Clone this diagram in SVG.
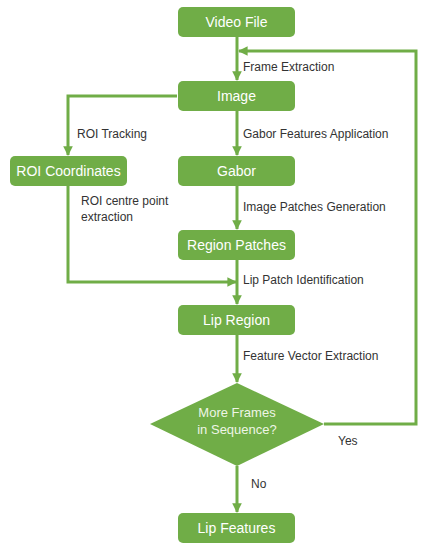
<svg xmlns="http://www.w3.org/2000/svg" width="426" height="550" viewBox="0 0 426 550">
<style>
.box{fill:#70ad47;}
.bt{fill:#ffffff;font-family:"Liberation Sans",Arial,sans-serif;font-size:14px;text-anchor:middle;}
.dt{fill:#eef5e6;font-family:"Liberation Sans",Arial,sans-serif;font-size:13px;text-anchor:middle;}
.lb{fill:#333333;font-family:"Liberation Sans",Arial,sans-serif;font-size:12px;}
.ln{fill:none;stroke:#70ad47;stroke-width:3;}
</style>
<defs>
<marker id="ah" viewBox="0 0 10 10" refX="9" refY="5" markerWidth="3.2" markerHeight="3.2" orient="auto" markerUnits="strokeWidth">
<path d="M0,0 L10,5 L0,10 z" fill="#70ad47"/>
</marker>
</defs>
<rect width="426" height="550" fill="#ffffff"/>
<g id="connectors">
<path class="ln" d="M237,37 V80" marker-end="url(#ah)"/>
<path class="ln" d="M324,424 H416 V51 H239" marker-end="url(#ah)"/>
<path class="ln" d="M177,96 H68 V155" marker-end="url(#ah)"/>
<path class="ln" d="M237,111 V155" marker-end="url(#ah)"/>
<path class="ln" d="M237,186 V229" marker-end="url(#ah)"/>
<path class="ln" d="M68,186 V282 H236" marker-end="url(#ah)"/>
<path class="ln" d="M237,260 V304" marker-end="url(#ah)"/>
<path class="ln" d="M237,334 V382" marker-end="url(#ah)"/>
<path class="ln" d="M237,466 V512" marker-end="url(#ah)"/>
</g>
<g id="labels">
<text class="lb" x="243" y="71">Frame Extraction</text>
<text class="lb" x="77" y="138">ROI Tracking</text>
<text class="lb" x="243" y="138">Gabor Features Application</text>
<text class="lb" x="81" y="205">ROI centre point</text>
<text class="lb" x="81" y="221">extraction</text>
<text class="lb" x="243" y="211">Image Patches Generation</text>
<text class="lb" x="243" y="284">Lip Patch Identification</text>
<text class="lb" x="243" y="360">Feature Vector Extraction</text>
<text class="lb" x="338" y="445">Yes</text>
<text class="lb" x="251" y="488">No</text>
</g>
<g id="video-file"><rect class="box" x="178" y="7" width="117" height="30" rx="5"/><text class="bt" x="236.5" y="27">Video File</text></g>
<g id="image"><rect class="box" x="178" y="81" width="117" height="30" rx="5"/><text class="bt" x="236.5" y="101">Image</text></g>
<g id="roi-coordinates"><rect class="box" x="10" y="156" width="117" height="30" rx="5"/><text class="bt" x="68.5" y="176">ROI Coordinates</text></g>
<g id="gabor"><rect class="box" x="178" y="156" width="117" height="30" rx="5"/><text class="bt" x="236.5" y="176">Gabor</text></g>
<g id="region-patches"><rect class="box" x="178" y="230" width="117" height="30" rx="5"/><text class="bt" x="236.5" y="250">Region Patches</text></g>
<g id="lip-region"><rect class="box" x="178" y="305" width="117" height="30" rx="5"/><text class="bt" x="236.5" y="325">Lip Region</text></g>
<g id="decision"><path class="box" d="M237,383 L324,424 L237,466 L150,424 z"/><text class="dt" x="237" y="417">More Frames</text><text class="dt" x="237" y="434">in Sequence?</text></g>
<g id="lip-features"><rect class="box" x="178" y="513" width="117" height="30" rx="5"/><text class="bt" x="236.5" y="533">Lip Features</text></g>
</svg>
